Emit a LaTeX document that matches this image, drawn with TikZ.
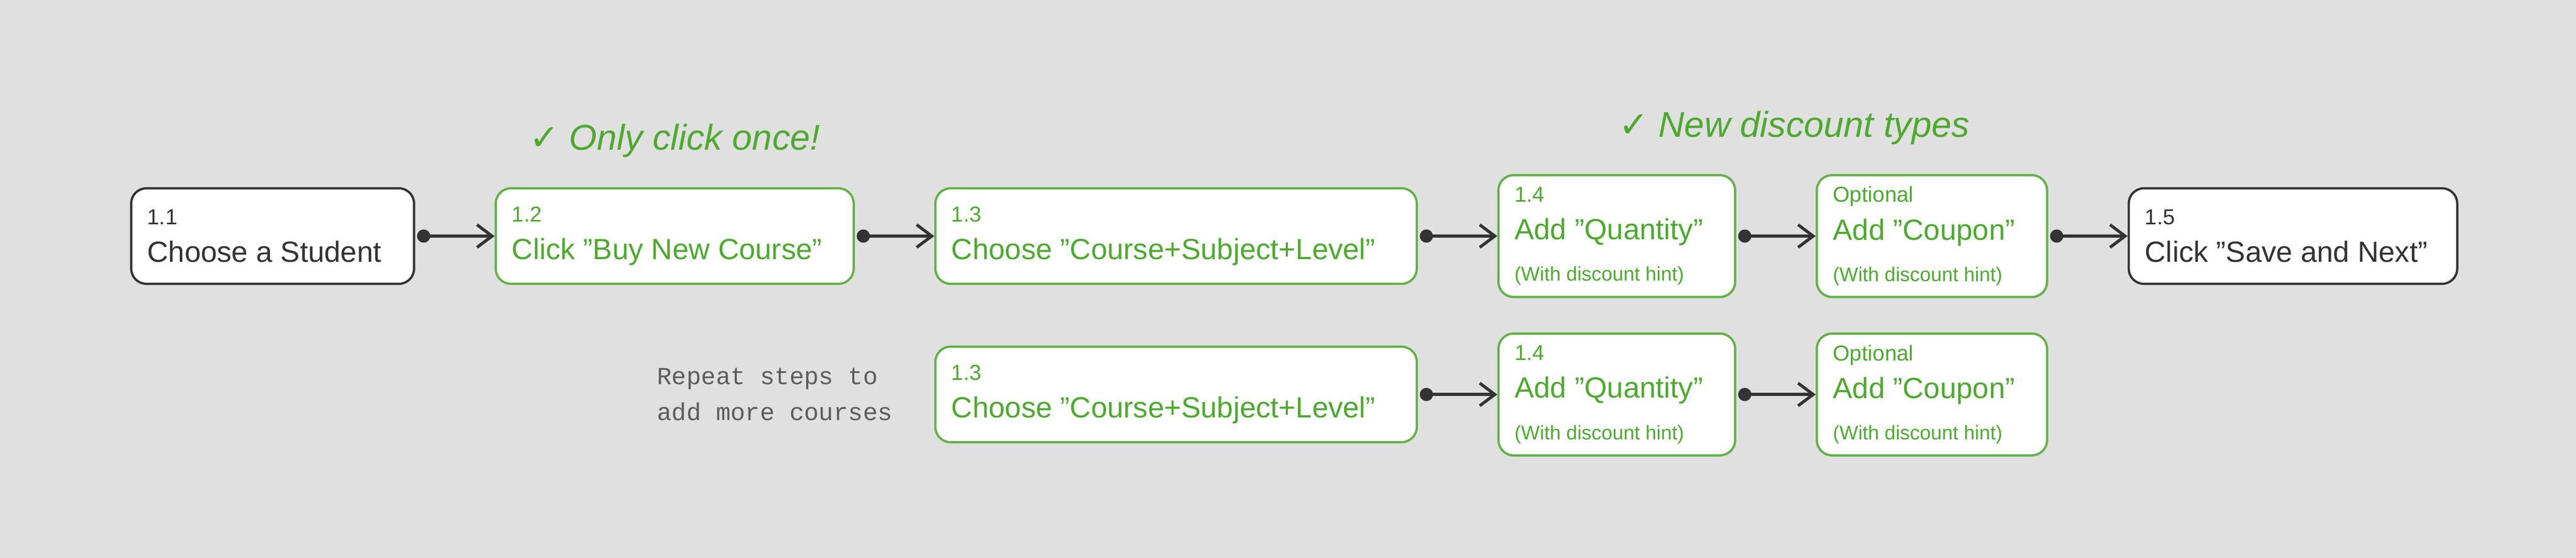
\documentclass[tikz,border=0pt]{standalone}
\usepackage{fontspec}
\setmainfont{Liberation Sans}
\newfontfamily\symfont{DejaVu Sans}
\newfontfamily\codefont{Liberation Mono}
\usetikzlibrary{arrows.meta}
\usetikzlibrary{positioning}
\definecolor{canvas}{HTML}{E0E0E0}
\definecolor{ink}{HTML}{333333}
\definecolor{leaf}{HTML}{4DAA2E}
\definecolor{leafline}{HTML}{62B245}
\tikzstyle{every node}+=[inner sep=0pt]
\tikzstyle{stage} = [rectangle, draw=ink, line width=1.2pt, fill=white, rounded corners=8pt, inner xsep=0.3cm, align=flush left, minimum height=1.78cm, font=\fontsize{15.5}{20}\selectfont, text=ink]
\tikzstyle{newstage} = [stage, draw=leafline, text=leaf]
\tikzstyle{tall} = [minimum height=2.27cm]
\tikzstyle{link} = [draw=ink, line width=1.6pt, {Circle[length=7pt]}-{Straight Barb[length=8pt,width=12pt]}, shorten <=1pt]
\tikzstyle{note} = [leaf, font=\fontsize{19}{22}\selectfont\itshape]
\newcommand{\stepno}[1]{{\fontsize{11.5}{17}\selectfont #1}\\}
\newcommand{\hint}[1]{\\[2pt]{\fontsize{10.5}{14}\selectfont #1}}
\newcommand{\q}[1]{\char34 #1\char34}
\newcommand{\tick}{{\normalfont\symfont ✓}}
\begin{document}
\begin{tikzpicture}[node distance = 1.48cm]
            \fill [canvas] (0,0) rectangle (48,10.4);
            \useasboundingbox (0,0) rectangle (48,10.4);
            % Main row
            \node [stage, text width=4.67cm] (b11) at (5.08,6.0) {\stepno{1.1}Choose a Student};
            \node [newstage, text width=6.07cm, right=of b11] (b12) {\stepno{1.2}Click \q{Buy New Course}};
            \node [newstage, text width=8.37cm, right=of b12] (b13) {\stepno{1.3}Choose \q{Course+Subject+Level}};
            \node [newstage, tall, text width=3.81cm, right=of b13] (b14) {\stepno{1.4}Add \q{Quantity}\hint{(With discount hint)}};
            \node [newstage, tall, text width=3.69cm, right=of b14] (bopt) {\stepno{Optional}Add \q{Coupon}\hint{(With discount hint)}};
            \node [stage, text width=5.52cm, right=of bopt] (b15) {\stepno{1.5}Click \q{Save and Next}};
            % Repeat row
            \node [newstage, text width=8.37cm, below=1.13cm of b13] (r13) {\stepno{1.3}Choose \q{Course+Subject+Level}};
            \node [newstage, tall, text width=3.81cm, right=of r13] (r14) {\stepno{1.4}Add \q{Quantity}\hint{(With discount hint)}};
            \node [newstage, tall, text width=3.69cm, right=of r14] (ropt) {\stepno{Optional}Add \q{Coupon}\hint{(With discount hint)}};
            \node [left=0.77cm of r13, align=left, text=ink!80, font=\fontsize{13}{19}\selectfont\codefont] (again) {Repeat steps to\\add more courses};
            % Notes
            \node [note, above=0.55cm of b12] (n12) {\tick{} Only click once!};
            \node [note] (n14) at (33.43,8.02) {\tick{} New discount types};
            % Draw edges
            \path [link] (b11) -- (b12);
            \path [link] (b12) -- (b13);
            \path [link] (b13) -- (b14);
            \path [link] (b14) -- (bopt);
            \path [link] (bopt) -- (b15);
            \path [link] (r13) -- (r14);
            \path [link] (r14) -- (ropt);
\end{tikzpicture}
\end{document}
